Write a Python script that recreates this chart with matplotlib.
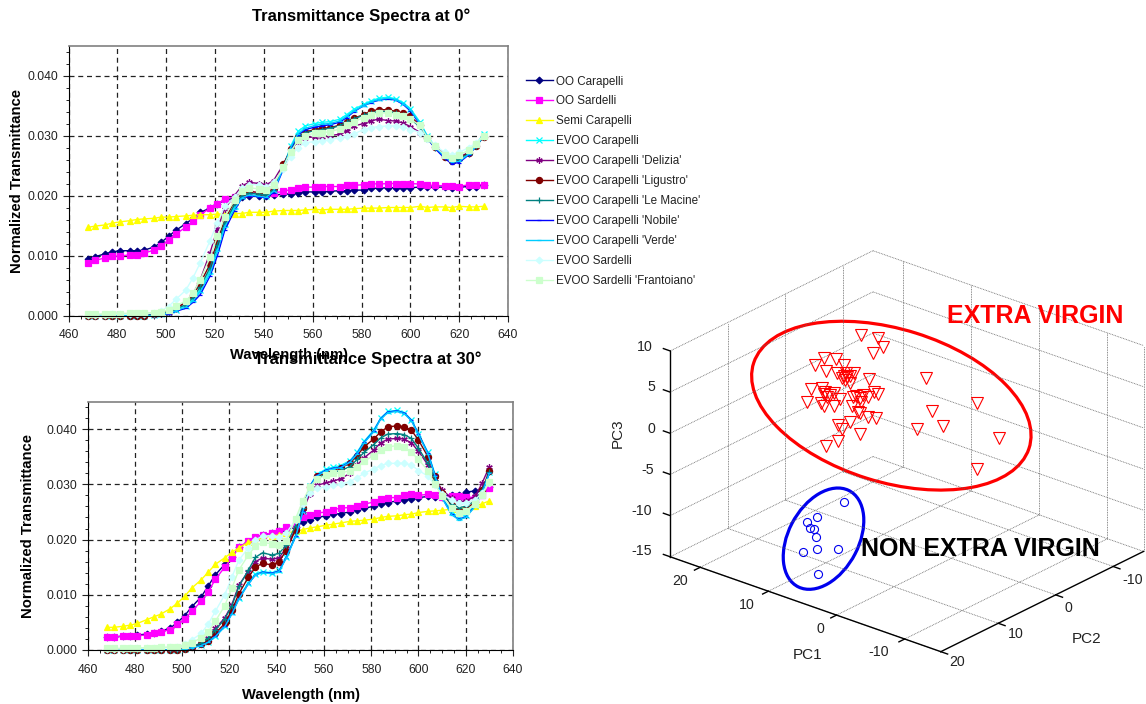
import matplotlib
matplotlib.use('Agg')
import matplotlib.pyplot as plt
from matplotlib.patches import Ellipse
from matplotlib.ticker import MultipleLocator, FormatStrFormatter

plt.rcParams['font.family'] = ['Liberation Sans', 'DejaVu Sans']

W, H = 1146, 704

wavelength = [468, 471, 475, 478, 481, 485, 488, 491, 495, 498,
              501, 504, 508, 511, 514, 518, 521, 524, 528, 531,
              534, 538, 541, 544, 548, 551, 554, 557, 561, 564,
              567, 571, 574, 577, 581, 584, 587, 591, 594, 597,
              600, 604, 607, 610, 614, 617, 620, 624, 627, 630]

labels = ['OO Carapelli', 'OO Sardelli', 'Semi Carapelli', 'EVOO Carapelli',
          "EVOO Carapelli 'Delizia'", "EVOO Carapelli 'Ligustro'", "EVOO Carapelli 'Le Macine'",
          "EVOO Carapelli 'Nobile'", "EVOO Carapelli 'Verde'", 'EVOO Sardelli',
          "EVOO Sardelli 'Frantoiano'"]
colors = ['#000080', '#FF00FF', '#FFFF00', '#00FFFF', '#800080', '#800000', '#008080',
          '#0000FF', '#00CCFF', '#CCFFFF', '#CCFFCC']
markers = ['D', 's', '^', 'x', (6, 2, 0), 'o', '+', '_', '_', 'D', 's']
marker_sizes = [3.4, 4.6, 4.8, 4.6, 4.6, 4.4, 4.6, 3.5, 3.5, 3.4, 4.6]

# spectra at 0 deg
oo_car_0 = [.0095, .0098, .0103, .0106, .0108, .0108, .0108, .0109, .0114, .0122,
            .0132, .0142, .0153, .0162, .0172, .0179, .0186, .0192, .0196, .0198,
            .0199, .0199, .0199, .0201, .0202, .0203, .0204, .0206, .0206, .0206,
            .0207, .0208, .0208, .0209, .0209, .0212, .0212, .0213, .0213, .0213,
            .0213, .0214, .0214, .0214, .0214, .0213, .0214, .0215, .0215, .0217]
oo_sar_0 = [.0088, .0092, .0096, .0099, .0099, .0101, .0101, .0104, .0109, .0116,
            .0126, .0136, .0147, .0157, .0168, .0179, .0186, .0194, .0198, .0203,
            .0204, .0204, .0204, .0204, .0207, .0210, .0212, .0214, .0214, .0215,
            .0215, .0215, .0217, .0217, .0218, .0220, .0219, .0220, .0220, .0219,
            .0220, .0219, .0217, .0217, .0216, .0216, .0215, .0218, .0218, .0218]
semi_0 = [.0147, .0149, .0151, .0154, .0156, .0158, .0160, .0161, .0162, .0164,
          .0164, .0165, .0166, .0167, .0168, .0168, .0169, .0169, .0170, .0170,
          .0172, .0172, .0172, .0174, .0175, .0175, .0175, .0176, .0177, .0176,
          .0177, .0177, .0177, .0178, .0179, .0179, .0179, .0180, .0180, .0180,
          .0180, .0182, .0180, .0181, .0181, .0180, .0182, .0181, .0181, .0182]
evoo_car_0 = [0, 0, 0, 0, 0, 0, 0, 0, .0001, .0002,
              .0005, .0010, .0016, .0027, .0043, .0075, .0112, .0152, .0182, .0200,
              .0204, .0202, .0200, .0210, .0248, .0282, .0307, .0316, .0320, .0322,
              .0323, .0327, .0335, .0344, .0352, .0358, .0362, .0364, .0361, .0355,
              .0345, .0322, .0299, .0282, .0267, .0260, .0262, .0272, .0285, .0303]
delizia_0 = [0, 0, 0, 0, 0, 0, 0, 0, .0001, .0002,
             .0005, .0012, .0022, .0036, .0060, .0105, .0145, .0178, .0200, .0216,
             .0222, .0220, .0218, .0225, .0252, .0275, .0290, .0296, .0298, .0298,
             .0300, .0302, .0308, .0316, .0320, .0325, .0327, .0325, .0324, .0321,
             .0315, .0305, .0295, .0282, .0270, .0262, .0264, .0272, .0285, .0297]
ligustro_0 = [0, 0, 0, 0, 0, 0, 0, 0, .0002, .0004,
              .0008, .0013, .0021, .0034, .0054, .0086, .0124, .0160, .0190, .0203,
              .0207, .0205, .0204, .0212, .0252, .0277, .0298, .0306, .0310, .0312,
              .0313, .0317, .0323, .0329, .0335, .0341, .0343, .0343, .0340, .0337,
              .0332, .0317, .0296, .0281, .0265, .0258, .0263, .0271, .0283, .0298]
macine_0 = [0, 0, 0, 0, 0, 0, 0, 0, .0001, .0003,
            .0006, .0011, .0018, .0030, .0048, .0080, .0118, .0155, .0185, .0200,
            .0204, .0202, .0201, .0210, .0248, .0275, .0296, .0305, .0308, .0310,
            .0312, .0316, .0322, .0328, .0334, .0338, .0340, .0340, .0338, .0334,
            .0328, .0314, .0295, .0280, .0264, .0257, .0261, .0270, .0282, .0298]
nobile_0 = [0, 0, 0, 0, 0, 0, 0, 0, 0, .0001,
            .0003, .0007, .0012, .0022, .0035, .0066, .0100, .0142, .0175, .0196,
            .0200, .0198, .0196, .0205, .0244, .0278, .0301, .0310, .0314, .0316,
            .0318, .0322, .0330, .0340, .0350, .0355, .0359, .0361, .0359, .0352,
            .0341, .0318, .0296, .0279, .0262, .0253, .0255, .0268, .0282, .0300]
verde_0 = [0, 0, 0, 0, 0, 0, 0, 0, 0, .0001,
           .0004, .0008, .0014, .0024, .0040, .0070, .0107, .0148, .0178, .0196,
           .0201, .0199, .0197, .0207, .0246, .0280, .0303, .0312, .0317, .0319,
           .0320, .0324, .0332, .0341, .0350, .0356, .0360, .0362, .0360, .0353,
           .0343, .0320, .0298, .0281, .0265, .0256, .0257, .0269, .0282, .0300]
evoo_sar_0 = [.0001, .0001, .0001, .0002, .0002, .0002, .0003, .0003, .0005, .0008,
              .0015, .0027, .0042, .0063, .0088, .0125, .0155, .0182, .0197, .0212,
              .0218, .0218, .0215, .0222, .0245, .0265, .0280, .0288, .0290, .0291,
              .0293, .0296, .0300, .0303, .0310, .0313, .0315, .0316, .0316, .0315,
              .0310, .0305, .0295, .0284, .0272, .0268, .0272, .0280, .0288, .0300]
frantoiano_0 = [.0002, .0002, .0003, .0003, .0003, .0004, .0004, .0004, .0005, .0006,
                .0009, .0016, .0024, .0037, .0060, .0097, .0132, .0165, .0192, .0207,
                .0213, .0211, .0210, .0218, .0248, .0273, .0292, .0300, .0304, .0305,
                .0306, .0311, .0317, .0323, .0330, .0335, .0337, .0338, .0335, .0332,
                .0327, .0317, .0296, .0282, .0268, .0262, .0267, .0276, .0286, .0299]

# spectra at 30 deg
oo_car_30 = [.0024, .0024, .0025, .0026, .0027, .0029, .0031, .0034, .0040, .0050,
             .0062, .0078, .0096, .0116, .0136, .0155, .0168, .0186, .0196, .0203,
             .0208, .0212, .0215, .0218, .0222, .0232, .0236, .0240, .0243, .0246,
             .0247, .0250, .0254, .0257, .0260, .0265, .0267, .0270, .0272, .0273,
             .0276, .0278, .0277, .0277, .0281, .0280, .0286, .0288, .0290, .0296]
oo_sar_30 = [.0023, .0023, .0025, .0025, .0026, .0027, .0030, .0033, .0037, .0047,
             .0056, .0070, .0088, .0105, .0128, .0150, .0167, .0186, .0197, .0205,
             .0208, .0212, .0216, .0222, .0226, .0240, .0244, .0248, .0250, .0254,
             .0257, .0258, .0260, .0264, .0268, .0273, .0276, .0276, .0280, .0282,
             .0280, .0282, .0280, .0277, .0278, .0278, .0277, .0276, .0280, .0293]
semi_30 = [.0041, .0041, .0043, .0045, .0048, .0055, .0060, .0065, .0075, .0085,
           .0097, .0112, .0127, .0141, .0155, .0167, .0177, .0185, .0195, .0197,
           .0203, .0207, .0208, .0212, .0215, .0218, .0221, .0223, .0226, .0228,
           .0230, .0233, .0234, .0235, .0237, .0240, .0242, .0243, .0245, .0246,
           .0249, .0251, .0252, .0253, .0255, .0256, .0258, .0260, .0265, .0270]
evoo_car_30 = [0, 0, 0, 0, 0, 0, 0, 0, 0, 0,
               .0001, .0005, .0009, .0015, .0026, .0044, .0068, .0095, .0122, .0138,
               .0142, .0140, .0144, .0168, .0208, .0252, .0297, .0318, .0328, .0331,
               .0334, .0343, .0358, .0378, .0398, .0420, .0432, .0434, .0430, .0417,
               .0392, .0358, .0318, .0278, .0250, .0240, .0244, .0263, .0287, .0322]
delizia_30 = [0, 0, 0, 0, 0, 0, 0, 0, 0, 0,
              .0002, .0006, .0012, .0021, .0039, .0058, .0082, .0118, .0142, .0160,
              .0167, .0164, .0167, .0185, .0220, .0252, .0282, .0298, .0303, .0306,
              .0310, .0320, .0335, .0348, .0362, .0375, .0382, .0383, .0382, .0375,
              .0360, .0335, .0310, .0290, .0275, .0268, .0270, .0278, .0303, .0332]
ligustro_30 = [0, 0, 0, 0, 0, 0, 0, 0, 0, 0,
               .0002, .0006, .0010, .0017, .0030, .0048, .0072, .0102, .0132, .0150,
               .0157, .0154, .0160, .0180, .0218, .0258, .0295, .0315, .0320, .0325,
               .0330, .0338, .0352, .0368, .0382, .0395, .0404, .0406, .0404, .0398,
               .0380, .0350, .0315, .0285, .0262, .0252, .0255, .0268, .0290, .0325]
macine_30 = [0, 0, 0, 0, 0, 0, 0, 0, 0, 0,
             .0002, .0006, .0012, .0021, .0036, .0056, .0080, .0115, .0145, .0168,
             .0176, .0172, .0175, .0190, .0225, .0258, .0293, .0312, .0318, .0322,
             .0325, .0332, .0345, .0358, .0372, .0384, .0391, .0392, .0390, .0383,
             .0365, .0338, .0308, .0282, .0265, .0258, .0260, .0270, .0290, .0322]
nobile_30 = [0, 0, 0, 0, 0, 0, 0, 0, 0, 0,
             .0001, .0004, .0008, .0014, .0025, .0043, .0066, .0093, .0120, .0136,
             .0141, .0139, .0143, .0167, .0206, .0251, .0296, .0316, .0326, .0329,
             .0331, .0341, .0356, .0376, .0396, .0419, .0431, .0433, .0429, .0416,
             .0391, .0356, .0316, .0276, .0246, .0237, .0241, .0261, .0286, .0320]
verde_30 = [0, 0, 0, 0, 0, 0, 0, 0, 0, 0,
            .0001, .0004, .0008, .0014, .0024, .0042, .0065, .0092, .0120, .0136,
            .0140, .0138, .0142, .0166, .0205, .0250, .0295, .0315, .0325, .0328,
            .0330, .0340, .0355, .0375, .0395, .0418, .0430, .0432, .0428, .0415,
            .0390, .0355, .0315, .0275, .0245, .0236, .0240, .0260, .0285, .0320]
evoo_sar_30 = [.0002, .0002, .0002, .0003, .0003, .0003, .0004, .0004, .0005, .0006,
               .0010, .0018, .0030, .0047, .0070, .0100, .0132, .0163, .0185, .0200,
               .0206, .0207, .0205, .0212, .0235, .0265, .0285, .0293, .0296, .0298,
               .0300, .0305, .0312, .0320, .0328, .0334, .0338, .0338, .0338, .0335,
               .0325, .0315, .0298, .0282, .0272, .0266, .0267, .0272, .0285, .0303]
frantoiano_30 = [.0003, .0003, .0003, .0003, .0004, .0004, .0004, .0005, .0005, .0006,
                 .0009, .0013, .0022, .0033, .0052, .0080, .0112, .0145, .0172, .0188,
                 .0195, .0192, .0190, .0198, .0238, .0270, .0295, .0310, .0316, .0320,
                 .0320, .0325, .0332, .0342, .0352, .0362, .0368, .0370, .0367, .0358,
                 .0345, .0325, .0300, .0278, .0258, .0248, .0252, .0265, .0280, .0305]

spectra_0 = [oo_car_0, oo_sar_0, semi_0, evoo_car_0, delizia_0, ligustro_0, macine_0,
             nobile_0, verde_0, evoo_sar_0, frantoiano_0]
spectra_30 = [oo_car_30, oo_sar_30, semi_30, evoo_car_30, delizia_30, ligustro_30, macine_30,
              nobile_30, verde_30, evoo_sar_30, frantoiano_30]

# PCA scores (position on the projected plane)
extra_x = [753, 803, 817, 790, 647, 683, 705, 620, 654, 685, 710, 733, 705, 722, 700, 715, 708, 722, 776,
           943, 610, 643, 650, 648, 677, 665, 655, 730, 740, 760, 750, 775, 793, 803, 755, 693, 597, 640,
           647, 675, 728, 745, 752, 775, 798, 688, 700, 723, 750, 687, 653, 960, 1089, 916, 990, 1152, 1089]
extra_y = [285, 295, 322, 340, 354, 357, 374, 374, 392, 398, 400, 400, 408, 408, 415, 412, 420, 430, 416,
           413, 448, 445, 455, 462, 458, 465, 472, 470, 468, 465, 475, 472, 455, 463, 485, 478, 486, 490,
           497, 498, 498, 515, 518, 530, 533, 556, 566, 547, 583, 603, 617, 514, 489, 566, 558, 594, 688]
non_x = [706, 626, 598, 607, 618, 623, 626, 688, 586, 631]
non_y = [785, 830, 847, 864, 867, 892, 926, 926, 937, 1003]

pc1_ticks = [20, 10, 0, -10]
pc2_ticks = [20, 10, 0, -10]
pc3_ticks = [10, 5, 0, -5, -10, -15]
pc1_lim = (-15.3, 24.4)
pc2_lim = (-15.3, 20)
pc3_lim = (-15, 10)


def make_axes(left, top, right, bottom):
    return fig.add_axes([left / W, 1 - bottom / H, (right - left) / W, (bottom - top) / H])


def spectra_axes(ax, spectra, ticksize=8.7):
    for y, lab, c, m, s in zip(spectra, labels, colors, markers, marker_sizes):
        ax.plot(wavelength, y, color=c, marker=m, ms=s, lw=1, mew=0.9, label=lab, clip_on=False,
                mec=c, mfc=c)
    ax.set_xlim(460, 640)
    ax.set_ylim(0, 0.045)
    ax.xaxis.set_major_locator(MultipleLocator(20))
    ax.xaxis.set_minor_locator(MultipleLocator(5))
    ax.yaxis.set_major_locator(MultipleLocator(0.01))
    ax.yaxis.set_minor_locator(MultipleLocator(0.002))
    ax.yaxis.set_major_formatter(FormatStrFormatter('%.3f'))
    ax.grid(True, which='major', color='#222222', ls=(0, (4, 3)), lw=0.9)
    ax.set_axisbelow(True)
    ax.tick_params(which='major', length=4, width=0.8, labelsize=ticksize, colors='#222222')
    ax.tick_params(axis='x', which='major', pad=6)
    ax.tick_params(which='minor', length=2, width=0.6)
    ax.spines['top'].set_color('#808080')
    ax.spines['right'].set_color('#808080')
    ax.spines['top'].set_linewidth(1.2)
    ax.spines['right'].set_linewidth(1.2)


fig = plt.figure(figsize=(W / 100, H / 100), dpi=100)

ax1 = make_axes(68.5, 45.5, 508, 315.5)
spectra_axes(ax1, spectra_0)
ax2 = make_axes(87.7, 401.5, 513, 650)
spectra_axes(ax2, spectra_30)

handles, legend_labels = ax1.get_legend_handles_labels()
fig.legend(handles, legend_labels, loc='upper left', bbox_to_anchor=(526 / W, 1 - 75.5 / H), frameon=False,
           fontsize=8.4, labelspacing=0.68, handlelength=2.3, handletextpad=0.3, borderpad=0, borderaxespad=0,
           labelcolor='#222222')


def label(x, y, s, size=10.5, weight='bold', rotation=0, color='black'):
    fig.text(x / W, 1 - y / H, s, fontsize=size, fontweight=weight, rotation=rotation, color=color,
             ha='center', va='center')


label(361, 16, 'Transmittance Spectra at 0°', size=12)
label(367.5, 359, 'Transmittance Spectra at 30°', size=12)
label(289, 355, 'Wavelength (nm)', size=10.6)
label(301, 695, 'Wavelength (nm)', size=10.6)
label(17, 181, 'Normalized Transmittance', size=10.7, rotation=90)
label(28, 526, 'Normalized Transmittance', size=10.7, rotation=90)

# PCA box, drawn on a flat axes with a fixed oblique projection
ax3 = make_axes(600, 240, 1146, 680)
ax3.set_xlim(0, 1578)
ax3.set_ylim(1320, 0)
ax3.axis('off')
ax3.patch.set_alpha(0)


def view(pc1, pc2, pc3):
    x = 985 - 19.7 * (pc1 - pc1_lim[0]) + 16.6 * (pc2_lim[1] - pc2)
    y = 1235 - 7.17 * (pc1 - pc1_lim[0]) - 8.52 * (pc2_lim[1] - pc2) - 24.7 * (pc3 - pc3_lim[0])
    return x, y


def seg(a, b, **kw):
    xa, ya = view(*a)
    xb, yb = view(*b)
    ax3.plot([xa, xb], [ya, yb], clip_on=False, **kw)


grid_kw = dict(color='#666666', lw=0.6, ls=(0, (1, 1)))
axis_kw = dict(color='black', lw=1.0)
p1a, p1b = pc1_lim
p2a, p2b = pc2_lim
p3a, p3b = pc3_lim
for t in pc1_ticks:
    seg((t, p2a, p3a), (t, p2b, p3a), **grid_kw)
    seg((t, p2a, p3a), (t, p2a, p3b), **grid_kw)
for t in pc2_ticks:
    seg((p1a, t, p3a), (p1b, t, p3a), **grid_kw)
    seg((p1b, t, p3a), (p1b, t, p3b), **grid_kw)
for t in pc3_ticks:
    seg((p1b, p2b, t), (p1b, p2a, t), **grid_kw)
    seg((p1b, p2a, t), (p1a, p2a, t), **grid_kw)
seg((p1a, p2a, p3a), (p1a, p2a, p3b), **grid_kw)

seg((p1b, p2b, p3a), (p1b, p2b, p3b), **axis_kw)
seg((p1b, p2b, p3a), (p1a, p2b, p3a), **axis_kw)
seg((p1a, p2b, p3a), (p1a, p2a, p3a), **axis_kw)
for t in pc3_ticks:
    seg((p1b, p2b, t), (p1b + 1, p2b, t), **axis_kw)
for t in pc1_ticks:
    seg((t, p2b, p3a), (t, p2b + 1, p3a), **axis_kw)
for t in pc2_ticks:
    seg((p1a, t, p3a), (p1a - 1, t, p3a), **axis_kw)

pc3_label_x = [130, 148, 148, 138, 120, 120]
pc3_label_y = [320, 442, 566, 690, 812, 932]
pc1_label_x = [230, 423, 638, 805]
pc1_label_y = [1023, 1095, 1167, 1237]
pc2_label_x = [1033, 1202, 1355, 1540]
pc2_label_y = [1266, 1183, 1105, 1020]
for t, x, y in zip(pc3_ticks, pc3_label_x, pc3_label_y):
    ax3.text(x, y, str(t), fontsize=10.2, ha='center', va='center', color='#222222')
for t, x, y in zip(pc1_ticks, pc1_label_x, pc1_label_y):
    ax3.text(x, y, str(t), fontsize=10.2, ha='center', va='center', color='#222222')
for t, x, y in zip(pc2_ticks, pc2_label_x, pc2_label_y):
    ax3.text(x, y, str(t), fontsize=10.2, ha='center', va='center', color='#222222', clip_on=False)
ax3.text(600, 1245, 'PC1', fontsize=11, ha='center', va='center', color='#222222')
ax3.text(1405, 1197, 'PC2', fontsize=11, ha='center', va='center', color='#222222')
ax3.text(50, 580, 'PC3', fontsize=11, ha='center', va='center', rotation=90, color='#222222')

ax3.plot(extra_x, extra_y, ls='none', marker='v', ms=8, mfc='none', mec='red', mew=0.8)
ax3.plot(non_x, non_y, ls='none', marker='o', ms=5.8, mfc='none', mec='#0000EE', mew=0.8)
ax3.add_patch(Ellipse((842, 497), 836, 458, angle=18, fc='none', ec='red', lw=2.3))
ax3.add_patch(Ellipse((646, 896), 324, 204, angle=-63.5, fc='none', ec='#0000EE', lw=2.3))
ax3.text(1258, 228, 'EXTRA VIRGIN', fontsize=18, fontweight='bold', color='red', ha='center', va='center')
ax3.text(1100, 928, 'NON EXTRA VIRGIN', fontsize=18, fontweight='bold', color='black', ha='center', va='center')

plt.savefig('out.png', dpi=100)
